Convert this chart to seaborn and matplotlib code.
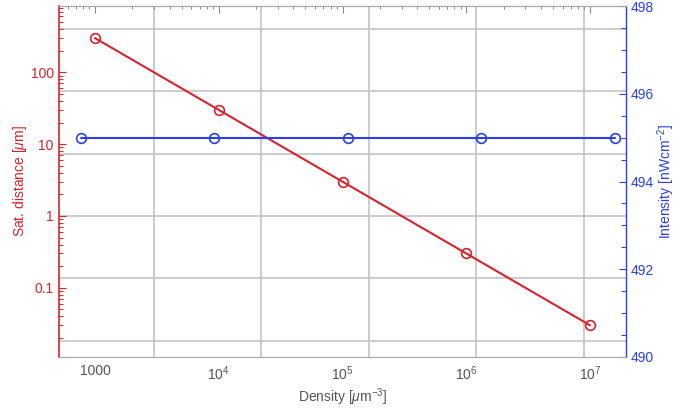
import numpy as np
import pandas as pd
import matplotlib
matplotlib.use("Agg")
import matplotlib.pyplot as plt
import matplotlib.ticker as mticker
import seaborn as sns

# data
density_red = [1e3, 1e4, 1e5, 1e6, 1e7]
sat_distance = [300, 30, 3, 0.3, 0.03]
density_blue = [766, 9200, 1.11e5, 1.32e6, 1.59e7]
intensity = [495, 495, 495, 495, 495]

# grid lines sit at powers of e^2
x_grid = [np.exp(8), np.exp(10), np.exp(12), np.exp(14), np.exp(16)]
y_grid = [np.exp(-4), np.exp(-2), 1.0, np.exp(2), np.exp(4), np.exp(6)]

red = "#d8222e"
blue = "#2a3fe6"
gray = "#555555"

sns.set_style("white")
plt.rcParams["font.family"] = ["Liberation Sans", "DejaVu Sans"]
plt.rcParams["mathtext.fontset"] = "custom"
plt.rcParams["mathtext.it"] = "Liberation Sans:italic"
plt.rcParams["mathtext.rm"] = "Liberation Sans"

fig = plt.figure(figsize=(6.78, 4.08), dpi=100)
ax = fig.add_axes([0.0866, 0.125, 0.8367, 0.860])
ax2 = ax.twinx()

df_red = pd.DataFrame({"x": density_red, "y": sat_distance})
df_blue = pd.DataFrame({"x": density_blue, "y": intensity})

for g in x_grid:
    ax.axvline(g, color="#c4c4c4", lw=1.2, zorder=0)
for g in y_grid:
    ax.axhline(g, color="#c4c4c4", lw=1.2, zorder=0)

sns.lineplot(data=df_red, x="x", y="y", ax=ax, color=red, lw=1.5,
             marker="o", markersize=7, markerfacecolor="none",
             markeredgecolor=red, markeredgewidth=1.2, zorder=3)
sns.lineplot(data=df_blue, x="x", y="y", ax=ax2, color=blue, lw=1.5,
             marker="o", markersize=7, markerfacecolor="none",
             markeredgecolor=blue, markeredgewidth=1.2, zorder=3)

ax.set_xscale("log")
ax.set_yscale("log")
ax.set_xlim(509, 1.954e7)
ax.set_ylim(0.01084, 837)
ax2.set_ylim(490, 498)

ax.xaxis.set_major_locator(mticker.FixedLocator([1e3, 1e4, 1e5, 1e6, 1e7]))
ax.xaxis.set_major_formatter(mticker.FixedFormatter(
    ["1000", "$10^4$", "$10^5$", "$10^6$", "$10^7$"]))
ax.xaxis.set_minor_locator(mticker.LogLocator(base=10, subs=np.arange(2, 10), numticks=20))
ax.xaxis.set_minor_formatter(mticker.NullFormatter())

ax.yaxis.set_major_locator(mticker.FixedLocator([0.1, 1, 10, 100]))
ax.yaxis.set_major_formatter(mticker.FixedFormatter(["0.1", "1", "10", "100"]))
ax.yaxis.set_minor_locator(mticker.LogLocator(base=10, subs=np.arange(2, 10), numticks=20))
ax.yaxis.set_minor_formatter(mticker.NullFormatter())

ax2.yaxis.set_major_locator(mticker.MultipleLocator(2))
ax2.yaxis.set_minor_locator(mticker.MultipleLocator(0.5))

ax.tick_params(axis="x", which="both", direction="in", top=True, colors="#888888",
               labelcolor=gray, labelsize=10, pad=5)
ax.tick_params(axis="x", which="major", length=5, width=0.8)
ax.tick_params(axis="x", which="minor", length=2.5, width=0.7)
ax.tick_params(axis="y", which="both", direction="in", left=True, right=False,
               colors=red, labelcolor=red, labelsize=10)
ax.tick_params(axis="y", which="major", length=5, width=0.8)
ax.tick_params(axis="y", which="minor", length=3, width=0.7)
ax2.tick_params(axis="y", which="both", direction="in", right=True, left=False,
                colors=blue, labelcolor=blue, labelsize=10)
ax2.tick_params(axis="y", which="major", length=5, width=0.8)
ax2.tick_params(axis="y", which="minor", length=3.5, width=0.7)

for a in (ax, ax2):
    a.spines["bottom"].set_color("#aaaaaa")
    a.spines["top"].set_color("#aaaaaa")
    a.spines["left"].set_color(red)
    a.spines["right"].set_color(blue)
    a.spines["left"].set_linewidth(1.2)
    a.spines["right"].set_linewidth(1.0)
ax2.spines["left"].set_visible(False)
ax.spines["right"].set_visible(False)

ax.set_xlabel(r"Density [$\mu$m$^{-3}$]", color=gray, fontsize=10, labelpad=3)
ax.set_ylabel(r"Sat. distance [$\mu$m]", color=red, fontsize=10, labelpad=1)
ax2.set_ylabel(r"Intensity [nWcm$^{-2}$]", color=blue, fontsize=10, labelpad=1)

fig.savefig("out.png", dpi=100)
